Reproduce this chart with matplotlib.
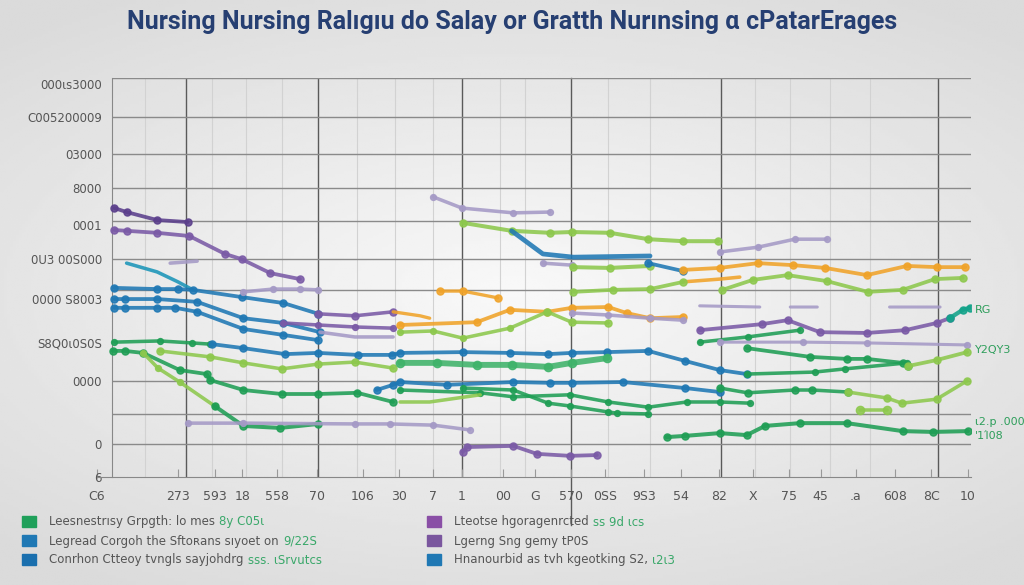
import numpy as np
import matplotlib.pyplot as plt
from matplotlib.patches import Rectangle

title = 'Nursing Nursing Ralıgıu do Salay or Gratth Nurınsing ɑ cPatarErages'

x_ticks = [0, 9.3, 13.5, 16.7, 20.7, 25.3, 30.5, 34.7, 38.6, 41.9, 46.6, 50.3,
           54.4, 58.3, 62.8, 67.1, 71.4, 75.3, 79.4, 83.1, 87.1, 91.6, 95.8, 100]
x_labels = ['C6', '273', '593', '18', '558', '70', '106', '30', '7', '1', '00', 'G',
            '570', '0SS', '9S3', '54', '82', 'X', '75', '45', '.a', '608', '8C', '10']
y_ticks = [0, 8.3, 24.1, 33.6, 44.6, 54.6, 63.2, 72.4, 81.0, 90.2, 98.5]
y_labels = ['6', '0', '0000', 'S8Q0ι0S0S', '0000 S8003', '0U3 00S000', '0001',
            '8000', '03000', 'C005200009', '000ιs3000']

# series (x, y)
purple_a = ([2.0, 3.4, 6.9, 10.4], [67.4, 66.4, 64.4, 63.9])
purple_b = ([2.0, 3.4, 6.9, 10.6, 14.7, 16.6, 19.9, 23.3],
            [61.9, 61.7, 61.2, 60.4, 55.9, 54.6, 51.1, 49.6])
lav_dash = ([8.4, 11.5], [53.6, 54.1])
teal_c = ([3.4, 6.9, 9.3, 11.0], [53.6, 51.4, 48.9, 46.9])
blue_d = ([2.0, 6.9, 9.3, 11.0, 16.6, 21.4, 25.4], [47.4, 47.1, 47.1, 46.9, 45.1, 43.6, 40.9])
purple_d = ([25.4, 29.6, 34.0], [40.9, 40.4, 41.4])
orange_a = ([34.0, 37.1, 38.2], [41.4, 40.4, 39.8])
orange_b = ([39.4, 42.0, 46.0], [46.6, 46.6, 44.9])
blue_e = ([2.0, 3.2, 6.9, 11.5, 16.8, 21.4, 25.6], [44.6, 44.6, 44.6, 43.9, 39.8, 38.6, 36.3])
blue_f = ([2.0, 3.2, 6.9, 9.0, 11.5, 16.8, 21.4, 25.4],
          [42.4, 42.4, 42.4, 42.4, 41.4, 37.1, 35.6, 34.3])
lav_a = ([16.8, 20.2, 23.3, 25.4], [46.4, 47.1, 47.1, 46.9])
purple_e = ([21.4, 25.4, 29.6, 34.0], [38.6, 38.1, 37.6, 37.3])
lav_b = ([25.6, 29.6, 34.0], [36.3, 35.1, 35.1])
green_top = ([2.0, 7.2, 10.9, 13.0], [33.8, 34.1, 33.6, 33.3])
blue_mid = ([13.2, 16.8, 21.6, 25.4, 30.0, 33.9, 34.8, 42.0, 47.4, 51.8, 54.5, 58.6, 63.3,
             67.5, 71.5, 74.6],
            [33.3, 32.3, 30.8, 31.1, 30.6, 30.6, 31.1, 31.3, 31.1, 30.8, 31.1, 31.3, 31.6,
             29.1, 26.8, 25.8])
green_r1 = ([74.6, 82.4, 85.9, 93.0], [25.8, 26.3, 27.1, 28.6])
green_g = ([1.8, 3.2, 5.3, 9.5, 12.6, 13.0, 16.8, 21.2, 25.4, 29.9, 34.0],
           [31.6, 31.6, 31.1, 26.8, 25.8, 24.3, 21.8, 20.8, 20.8, 21.1, 18.8])
lgreen_drop = ([5.3, 7.0, 9.5, 13.5], [31.1, 27.3, 23.8, 17.8])
green_low = ([13.5, 16.8, 21.0, 25.4], [17.8, 12.8, 12.3, 13.3])
lgreen_mid = ([7.2, 13.0, 16.8, 21.2, 25.4, 29.6, 34.0], [31.6, 30.1, 28.6, 27.1, 28.3, 28.8, 27.3])
blue_low = ([32.1, 34.0, 34.8, 40.2, 47.8, 52.0, 54.5, 60.4, 67.5, 71.5],
            [21.8, 23.1, 23.8, 23.1, 23.8, 23.6, 23.6, 23.8, 22.3, 21.3])
green_r2 = ([71.5, 74.7, 80.1, 82.1, 86.2], [22.3, 21.1, 21.8, 21.8, 21.3])
lgreen_r2 = ([86.2, 90.7, 92.4, 96.4, 99.9], [21.3, 19.8, 18.5, 19.5, 24.1])
green_band = ([34.8, 39.0, 43.6, 47.6, 51.8, 54.5, 58.6], [28.6, 28.6, 28.1, 28.1, 27.6, 28.6, 29.8])
green_h = ([34.8, 44.0, 47.8, 54.3, 58.7, 63.3, 67.7, 71.5, 75.0],
           [21.8, 21.1, 20.1, 20.6, 18.8, 17.5, 18.8, 18.8, 18.5])
green_i = ([42.0, 47.8, 51.8, 54.3, 58.7, 59.7, 63.3], [22.3, 21.8, 18.5, 17.8, 16.3, 16.0, 15.8])
lav_low = ([10.4, 16.8, 29.6, 33.6, 38.6, 42.8], [13.5, 13.5, 13.3, 13.3, 13.0, 11.8])
purple_low = ([42.0, 42.5, 47.8, 50.5, 54.3, 57.4], [6.3, 7.5, 7.8, 5.8, 5.3, 5.5])
green_bottom = ([65.4, 67.5, 71.5, 74.6, 76.7, 80.7, 86.1, 92.5, 96.0, 100.0],
                [10.0, 10.3, 11.0, 10.5, 12.8, 13.5, 13.5, 11.5, 11.3, 11.5])
lgreen_short = ([87.6, 90.7], [16.8, 16.8])
lav_top = ([38.6, 41.9, 47.8, 52.0], [70.2, 67.4, 66.2, 66.4])
lgreen_top = ([42.0, 47.6, 52.0, 54.5, 58.9, 63.3, 67.3, 71.3],
              [63.7, 61.7, 61.2, 61.4, 61.2, 59.6, 59.1, 59.1])
lav_top_r = ([71.5, 75.9, 80.1, 83.8], [56.4, 57.6, 59.6, 59.6])
blue_thick = ([47.6, 51.2, 54.7, 63.5], [61.7, 55.9, 55.1, 55.4])
lav_c = ([51.2, 54.5], [53.6, 53.1])
lgreen_c = ([54.7, 58.9, 63.5], [52.6, 52.4, 52.9])
blue_c = ([63.3, 67.3], [53.6, 51.6])
orange_top = ([67.3, 71.5, 75.9, 79.9, 83.6, 88.4, 93.0, 96.4, 99.7],
              [51.9, 52.4, 53.6, 53.1, 52.4, 50.6, 52.9, 52.6, 52.6])
orange_c = ([67.3, 71.5, 73.8], [48.9, 49.6, 50.1])
lgreen_r = ([71.8, 75.3, 79.3, 83.8, 88.5, 92.5, 96.2, 99.4],
            [46.9, 49.4, 50.6, 49.1, 46.4, 46.9, 49.6, 49.9])
lgreen_d = ([54.7, 59.2, 63.5, 67.3], [46.4, 46.9, 47.1, 48.9])
orange_mid = ([34.8, 43.6, 47.4, 51.7, 54.5, 58.7, 60.8, 63.5, 67.3],
              [38.1, 38.8, 41.9, 41.4, 42.4, 42.6, 41.1, 39.8, 40.1])
lgreen_e = ([34.8, 38.6, 42.0, 47.4, 51.7], [36.3, 36.6, 34.8, 37.3, 41.4])
green_e = ([51.7, 54.5, 58.7], [41.4, 38.8, 38.6])
lav_d = ([54.5, 58.7, 63.5, 67.3], [41.1, 40.6, 39.8, 39.3])
lav_dashes = ([69.2, 76.1, np.nan, 79.6, 82.7, np.nan, 91.0, 96.8],
              [42.9, 42.6, np.nan, 42.6, 42.6, np.nan, 42.6, 42.6])
purple_r = ([69.2, 76.3, 79.3, 83.0, 88.4, 92.8, 96.4, 97.9],
            [36.8, 38.3, 39.3, 36.3, 36.1, 36.8, 38.6, 39.8])
teal_r = ([97.9, 99.4, 100.2], [39.8, 41.9, 42.4])
green_r3 = ([69.2, 74.7, 80.7], [33.8, 35.1, 36.8])
lav_long = ([71.5, 81.1, 88.4, 99.9], [33.8, 33.8, 33.6, 33.1])
green_r4 = ([74.6, 81.9, 86.1, 88.4, 92.5, 93.1], [32.3, 30.1, 29.6, 29.6, 28.6, 27.8])
lgreen_r4 = ([93.1, 96.4, 99.9], [27.8, 29.3, 31.3])
lgreen_f = ([34.8, 38.2, 44.0], [18.8, 18.8, 20.6])

right_labels = ['RG', 'Y2QY3', 'ι2.p .000', "'1Ί08"]
right_label_y = [41.9, 31.8, 13.8, 10.3]

legend_left = [('Leesnestrısy Grpgth: lo mes', '8y C05ι', '#1fa05a'),
               ('Legread Corgoh the Sftoʀans sıyoet on', '9/22S', '#1f78b4'),
               ('Conrhon Ctteoy tvngls sayjohdrg', 'sss. ιSrvutcs', '#1a6fae')]
legend_right = [('Lteotse hgoragenrcted', 'ss 9d ιcs', '#8a4fa6'),
                ('Lgerng Sng gemy tP0S', '', '#7a569e'),
                ('Hnanourbid as tvh kgeotking S2,', 'ι2ι3', '#1f78b4')]

PURPLE_D = '#5b3f8c'
PURPLE = '#7a5aa6'
LAV = '#a59ac6'
BLUE = '#1f78b4'
TEAL = '#1b95b8'
GREEN = '#1f9e55'
LGREEN = '#8dc84d'
ORANGE = '#f0a329'

lines = [
    (purple_a, PURPLE_D, 3.2, 6), (purple_b, PURPLE, 3.2, 6), (lav_dash, LAV, 3.0, 0),
    (teal_c, TEAL, 3.0, 0), (blue_d, BLUE, 3.2, 6), (purple_d, PURPLE, 3.0, 6),
    (orange_a, ORANGE, 2.8, 0), (orange_b, ORANGE, 2.8, 6), (blue_e, BLUE, 3.2, 6),
    (blue_f, BLUE, 3.2, 6), (lav_a, LAV, 3.0, 5), (purple_e, PURPLE, 3.0, 5),
    (lav_b, LAV, 3.0, 0), (green_top, GREEN, 3.0, 5), (blue_mid, BLUE, 3.2, 6),
    (green_r1, GREEN, 3.0, 5), (green_g, GREEN, 3.2, 6), (lgreen_drop, LGREEN, 3.0, 5),
    (green_low, GREEN, 3.4, 6), (lgreen_mid, LGREEN, 3.0, 6), (blue_low, BLUE, 3.2, 6),
    (green_r2, GREEN, 3.0, 6), (lgreen_r2, LGREEN, 3.0, 6), (green_band, '#3fb36a', 5.0, 7),
    (green_h, GREEN, 3.0, 5), (green_i, GREEN, 3.0, 5), (lav_low, LAV, 3.0, 5),
    (purple_low, PURPLE, 3.2, 6), (green_bottom, GREEN, 3.4, 6), (lgreen_short, LGREEN, 3.0, 7),
    (lav_top, LAV, 3.0, 5), (lgreen_top, LGREEN, 3.4, 6), (lav_top_r, LAV, 3.0, 5),
    (blue_thick, BLUE, 4.0, 0), (lav_c, LAV, 3.0, 5), (lgreen_c, LGREEN, 3.4, 6),
    (blue_c, BLUE, 3.2, 6), (orange_top, ORANGE, 3.2, 6), (orange_c, ORANGE, 3.0, 0),
    (lgreen_r, LGREEN, 3.2, 6), (lgreen_d, LGREEN, 3.2, 6), (orange_mid, ORANGE, 3.2, 6),
    (lgreen_e, LGREEN, 3.0, 5), (green_e, LGREEN, 3.0, 6), (lav_d, LAV, 3.0, 5),
    (lav_dashes, LAV, 2.6, 0), (purple_r, PURPLE, 3.2, 6), (teal_r, '#13a38a', 3.6, 6),
    (green_r3, GREEN, 3.0, 5), (lav_long, LAV, 2.6, 5), (green_r4, GREEN, 3.2, 6),
    (lgreen_r4, LGREEN, 3.2, 6), (lgreen_f, LGREEN, 3.0, 0),
]

fig = plt.figure(figsize=(10.24, 5.85), dpi=100)

# soft grey background
bg = fig.add_axes([0, 0, 1, 1], zorder=-1)
yy, xx = np.mgrid[-1:1:200j, -1:1:350j]
r = np.sqrt((xx * 0.9) ** 2 + (yy * 1.1) ** 2)
bg.imshow(0.975 - 0.09 * np.clip(r, 0, 1.3), cmap='gray', vmin=0, vmax=1,
          aspect='auto', extent=[0, 1, 0, 1])
bg.set_xlim(0, 1)
bg.set_ylim(0, 1)
bg.axis('off')

ax = fig.add_axes([97 / 1024, 1 - 477 / 585, (971 - 97) / 1024, (477 - 78) / 585])
ax.set_facecolor('none')
ax.set_xlim(0, 100.35)
ax.set_ylim(0, 100)

x0 = 1.7
# grid
for gx in [5.5, 13.2, 17.1, 21.2, 29.9, 34.2, 38.6, 46.3, 49.1, 58.7, 63.5, 75.5, 79.6, 84.2, 88.7]:
    ax.axvline(gx, color='#d2d2d2', lw=0.8, zorder=1)
for gx in [10.2, 25.4, 41.9, 71.6, 96.6]:
    ax.axvline(gx, color='#5a5a5a', lw=1.0, zorder=1)
ax.axvline(54.4, ymin=-0.12, ymax=1, color='#5a5a5a', lw=1.0, zorder=1, clip_on=False)
ax.hlines([100, 90.2, 81.0, 72.4, 64.2, 54.6, 46.9, 24.1, 15.8, 8.3], x0, 100.35,
          color='#8a8a8a', lw=1.0, zorder=1)

for (xs, ys), color, lw, ms in lines:
    ax.plot(xs, ys, color=color, lw=lw * 0.85, marker='o' if ms else None, ms=ms * 0.85,
            alpha=0.88, solid_capstyle='round', zorder=3)

for label, yv in zip(right_labels, right_label_y):
    ax.text(100.8, yv, label, color='#2e9e5b', fontsize=8, va='center', clip_on=False)

ax.spines['left'].set_position(('data', x0))
for s in ['top', 'right']:
    ax.spines[s].set_visible(False)
ax.spines['left'].set_color('#888888')
ax.spines['bottom'].set_color('#888888')
ax.set_xticks(x_ticks)
ax.set_xticklabels(x_labels, fontsize=9, color='#555555')
ax.set_yticks(y_ticks)
ax.set_yticklabels(y_labels, fontsize=8.5, color='#555555')
ax.tick_params(axis='x', direction='in', length=6, color='#999999', pad=9)
ax.tick_params(axis='y', length=0, pad=7)

fig.text(0.5, 0.962, title, ha='center', va='center', fontsize=18,
         fontweight='bold', color='#263f72', family=['Roboto', 'DejaVu Sans'])

# legend
rows_y = [1 - 522 / 585, 1 - 541 / 585, 1 - 560 / 585]
for col_x, entries in [(22, legend_left), (427, legend_right)]:
    for yv, (txt, extra, color) in zip(rows_y, entries):
        fig.patches.append(Rectangle((col_x / 1024, yv - 5 / 585), 14 / 1024, 11 / 585,
                                     transform=fig.transFigure, color=color))
        t = fig.text((col_x + 27) / 1024, yv, txt, fontsize=8.5, color='#555555',
                     va='center')
        if extra:
            bg.annotate(extra, xy=(1, 0.5), xycoords=t, xytext=(3, 0),
                        textcoords='offset points', va='center', fontsize=8.5,
                        color='#3aa86a')

fig.savefig('out.png', dpi=100)
